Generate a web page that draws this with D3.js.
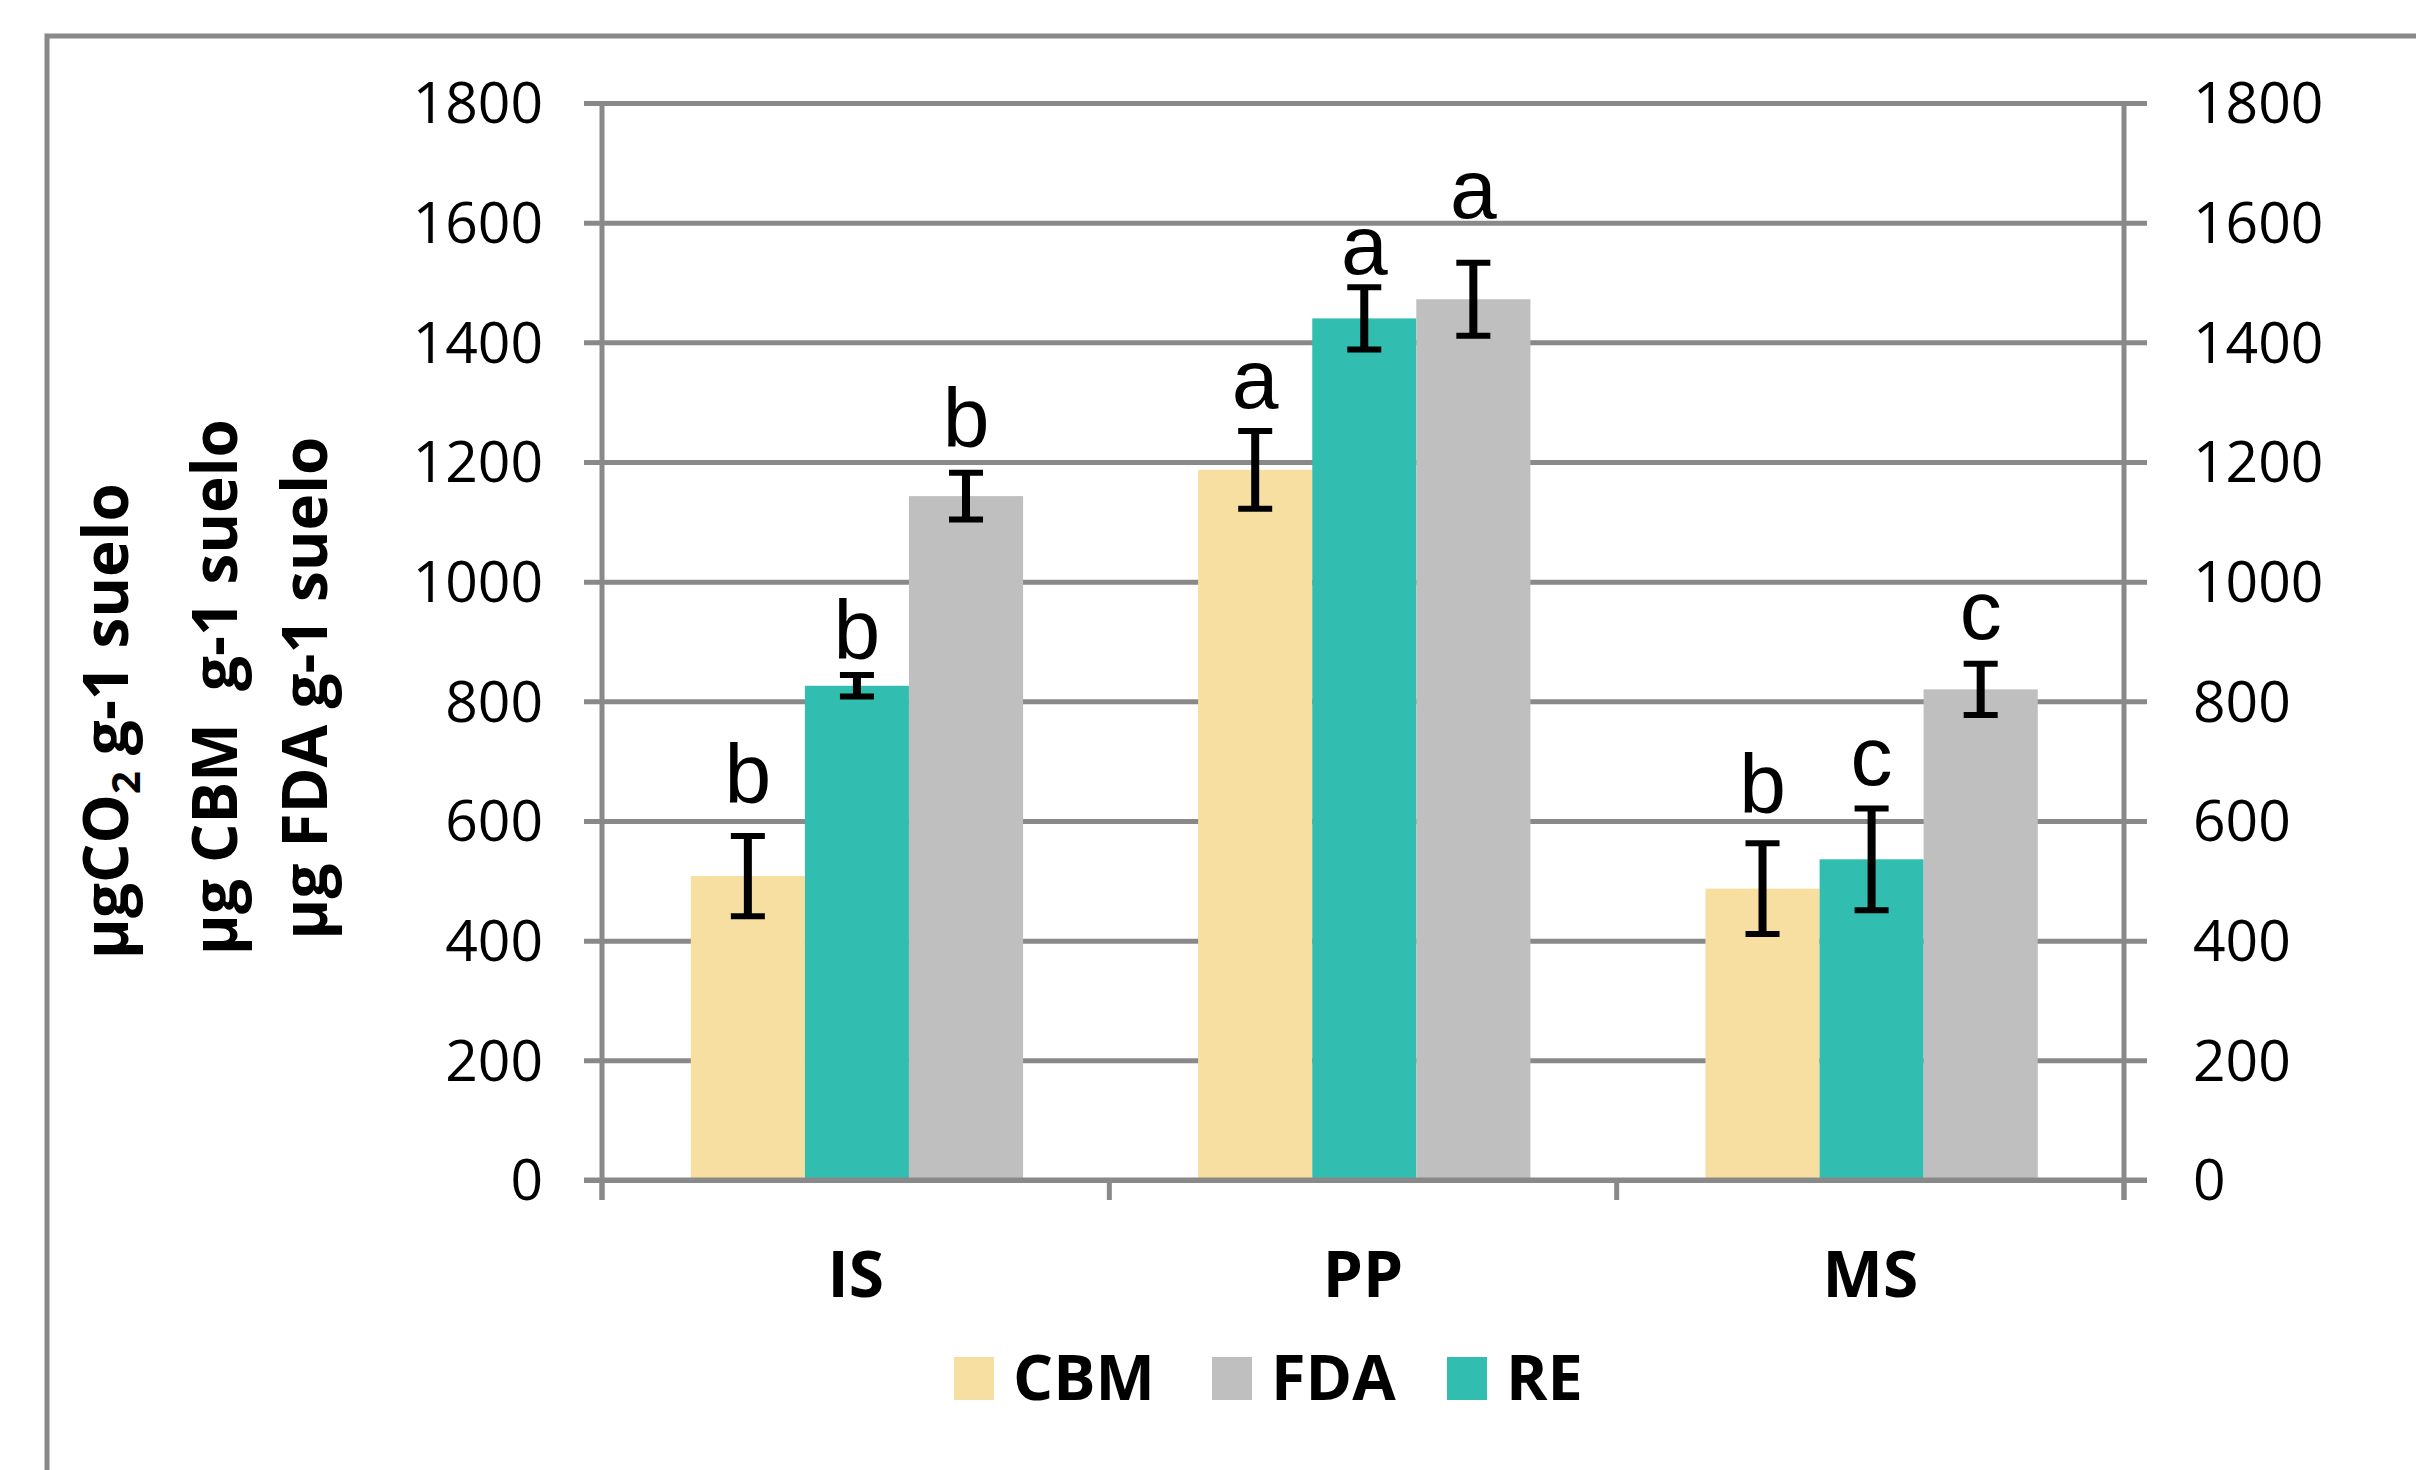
<!DOCTYPE html>
<html>
<head>
<meta charset="utf-8">
<script src="https://cdn.jsdelivr.net/npm/d3@7"></script>
<style>
  html, body { margin: 0; padding: 0; background: #ffffff; }
  svg { display: block; }
  text { white-space: pre; }
</style>
</head>
<body>
<svg id="chart" width="2416" height="1470"></svg>
<script>
// ---------------- DATA ----------------
const categories = ["IS", "PP", "MS"];
const seriesDrawOrder = ["CBM", "RE", "FDA"];
const legendOrder = ["CBM", "FDA", "RE"];

const cbmValues = [508, 1187, 487];
const cbmErrors = [67, 65, 76];
const cbmLetters = ["b", "a", "b"];

const reValues = [826, 1440, 536];
const reErrors = [18, 52, 85];
const reLetters = ["b", "a", "c"];

const fdaValues = [1143, 1472, 820];
const fdaErrors = [39, 61, 43];
const fdaLetters = ["b", "a", "c"];

const yTicks = [0, 200, 400, 600, 800, 1000, 1200, 1400, 1600, 1800];
const yTitleLines = ["µgCO|2| g-1 suelo", "µg CBM  g-1 suelo", "µg FDA g-1 suelo"];

// ---------------- STYLE / LAYOUT ----------------
const colors = { CBM: "#F7DFA1", RE: "#31BDB0", FDA: "#BFBFBF" };
const gridColor = "#898989";
const plot = { left: 602, right: 2124, top: 103, bottom: 1180 };
// bar slot inside each category band (fractions of band width)
const slot = {
  CBM: { start: 0.175, width: 0.225 },
  RE:  { start: 0.400, width: 0.205 },
  FDA: { start: 0.605, width: 0.225 }
};
// gap (px) between error-bar top and significance letter baseline
const letterGap = {
  CBM: [33, 23, 30],
  RE:  [16, 13, 23],
  FDA: [26, 45, 25]
};

const seriesData = {
  CBM: { values: cbmValues, errors: cbmErrors, letters: cbmLetters },
  RE:  { values: reValues,  errors: reErrors,  letters: reLetters },
  FDA: { values: fdaValues, errors: fdaErrors, letters: fdaLetters }
};

const svg = d3.select("#chart");
svg.append("rect").attr("width", 2416).attr("height", 1470).attr("fill", "#fff");

// outer frame (extends beyond the picture on right/bottom)
svg.append("rect")
  .attr("x", 47).attr("y", 36).attr("width", 2600).attr("height", 1700)
  .attr("fill", "none").attr("stroke", gridColor).attr("stroke-width", 5);

const x = d3.scaleBand().domain(categories).range([plot.left, plot.right]).padding(0);
const y = d3.scaleLinear().domain([0, 1800]).range([plot.bottom, plot.top]);
const fmt = d3.format("d");

// gridlines + tick marks on both sides
const grid = svg.append("g").attr("transform", `translate(${plot.left - 18},0)`)
  .call(d3.axisRight(y).tickValues(yTicks).tickSize(plot.right - plot.left + 41).tickFormat(""));
grid.select(".domain").remove();
grid.selectAll(".tick line").attr("stroke", gridColor).attr("stroke-width", 5);

// bars
seriesDrawOrder.forEach(s => {
  const d = seriesData[s];
  svg.append("g").selectAll("rect")
    .data(categories.map((c, i) => ({ c, v: d.values[i] })))
    .join("rect")
    .attr("x", e => x(e.c) + x.bandwidth() * slot[s].start)
    .attr("width", x.bandwidth() * slot[s].width)
    .attr("y", e => y(e.v))
    .attr("height", e => y(0) - y(e.v))
    .attr("fill", colors[s]);
});

// axes lines
svg.append("line").attr("x1", plot.left).attr("x2", plot.left)
  .attr("y1", plot.top).attr("y2", plot.bottom + 20)
  .attr("stroke", gridColor).attr("stroke-width", 5);
svg.append("line").attr("x1", plot.right).attr("x2", plot.right)
  .attr("y1", plot.top).attr("y2", plot.bottom + 20)
  .attr("stroke", gridColor).attr("stroke-width", 5);
svg.append("line").attr("x1", plot.left - 18).attr("x2", plot.right + 23)
  .attr("y1", plot.bottom).attr("y2", plot.bottom)
  .attr("stroke", gridColor).attr("stroke-width", 5);
// category boundary ticks
const xb = svg.append("g").attr("transform", `translate(0,${plot.bottom})`)
  .call(d3.axisBottom(x).tickSize(20).tickFormat(""));
xb.select(".domain").remove();
xb.selectAll(".tick").attr("transform", d => `translate(${x(d)},0)`);
xb.selectAll(".tick line").attr("stroke", gridColor).attr("stroke-width", 5);
svg.append("line").attr("x1", x("MS") + x.bandwidth()).attr("x2", x("MS") + x.bandwidth())
  .attr("y1", plot.bottom).attr("y2", plot.bottom + 20)
  .attr("stroke", gridColor).attr("stroke-width", 5);

// category labels
const xl = svg.append("g").attr("transform", `translate(0,${plot.bottom})`)
  .call(d3.axisBottom(x).tickSize(0).tickPadding(0));
xl.select(".domain").remove();
xl.selectAll(".tick text")
  .attr("y", 117).attr("dy", null)
  .attr("font-family", "'Open Sans', sans-serif").attr("font-weight", "bold")
  .attr("font-size", 64).attr("fill", "#000");

// y tick labels left and right
const yl = svg.append("g").attr("transform", `translate(543,0)`)
  .call(d3.axisLeft(y).tickValues(yTicks).tickFormat(fmt).tickSize(0).tickPadding(0));
yl.select(".domain").remove();
yl.selectAll(".tick text").attr("font-family", "'Open Sans', sans-serif")
  .attr("font-size", 57).attr("fill", "#000").attr("dy", "0.35em");
const yr = svg.append("g").attr("transform", `translate(2193,0)`)
  .call(d3.axisRight(y).tickValues(yTicks).tickFormat(fmt).tickSize(0).tickPadding(0));
yr.select(".domain").remove();
yr.selectAll(".tick text").attr("font-family", "'Open Sans', sans-serif")
  .attr("font-size", 57).attr("fill", "#000").attr("dy", "0.35em");

// error bars and letters
seriesDrawOrder.forEach(s => {
  const d = seriesData[s];
  const g = svg.append("g");
  categories.forEach((c, i) => {
    const cx = x(c) + x.bandwidth() * (slot[s].start + slot[s].width / 2);
    const hi = y(d.values[i] + d.errors[i]);
    const lo = y(d.values[i] - d.errors[i]);
    g.append("line").attr("x1", cx).attr("x2", cx).attr("y1", hi).attr("y2", lo)
      .attr("stroke", "#000").attr("stroke-width", 8);
    [hi, lo].forEach(yy => g.append("line")
      .attr("x1", cx - 17).attr("x2", cx + 17).attr("y1", yy).attr("y2", yy)
      .attr("stroke", "#000").attr("stroke-width", 6));
    g.append("text")
      .attr("x", cx).attr("y", hi - letterGap[s][i])
      .attr("text-anchor", "middle")
      .attr("font-family", "'Liberation Sans', Arial, sans-serif")
      .attr("font-size", 84).attr("fill", "#000")
      .text(d.letters[i]);
  });
});

// y-axis title (three rotated lines)
const titlePos = [ { x: 128, y: 721 }, { x: 237, y: 687 }, { x: 327, y: 688 } ];
yTitleLines.forEach((line, k) => {
  const t = svg.append("text")
    .attr("transform", `translate(${titlePos[k].x},${titlePos[k].y}) rotate(-90)`)
    .attr("text-anchor", "middle")
    .attr("font-family", "'Open Sans', sans-serif").attr("font-weight", "bold")
    .attr("font-size", 62).attr("fill", "#000");
  const parts = line.split("|");
  if (parts.length === 1) {
    t.text(line);
  } else {
    t.append("tspan").text(parts[0]);
    t.append("tspan").attr("font-size", 40).attr("dy", 12).text(parts[1]);
    t.append("tspan").attr("dy", -12).text(parts[2]);
  }
});

// legend
const legendX = [954, 1212, 1447];
legendOrder.forEach((s, k) => {
  const g = svg.append("g").attr("transform", `translate(${legendX[k]},1357)`);
  g.append("rect").attr("width", 40).attr("height", 43).attr("fill", colors[s]);
  g.append("text").attr("x", 59).attr("y", 43)
    .attr("font-family", "'Open Sans', sans-serif").attr("font-weight", "bold")
    .attr("font-size", 63).attr("fill", "#000").text(s);
});
</script>
</body>
</html>
